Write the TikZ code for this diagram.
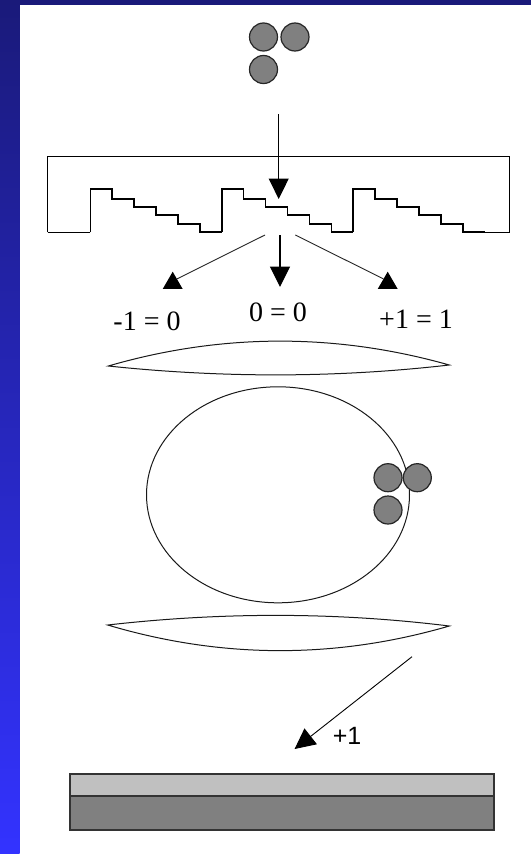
\documentclass[tikz,border=0pt]{standalone}
\usepackage{fontspec}
\setmainfont{Liberation Serif}
\newfontfamily\labelsans{Liberation Sans}
\usepackage{xcolor}
\usetikzlibrary{arrows.meta,positioning,shapes.geometric}
\definecolor{slidetop}{RGB}{26,26,122}
\definecolor{slidelow}{RGB}{51,51,255}
\definecolor{ballgrey}{RGB}{128,128,128}
\definecolor{layerlight}{RGB}{192,192,192}

\begin{document}
\begin{tikzpicture}[
    x=1pt, y=-1pt,
    ball/.style={circle, draw=black!85, fill=ballgrey, line width=1.2pt, minimum size=28pt, inner sep=0pt},
    head/.style={regular polygon, regular polygon sides=3, fill=black, minimum size=23pt, inner sep=0pt},
    lens/.style={draw=black!90, line width=1pt, fill=white},
    ray/.style={draw=black!85, line width=0.9pt},
    arrow/.style={-{Triangle[length=20.5pt,width=20pt]}, draw=black, line width=1.1pt},
    order/.style={font=\fontsize{28}{30}\selectfont, anchor=base},
    layer/.style={draw=black!80, line width=1.2pt, minimum width=424pt, inner sep=0pt, anchor=north west}
  ]
    \useasboundingbox (0,0) rectangle (531,854);
    \fill[white] (0,0) rectangle (531,854);
    % slide frame
    \shade[top color=slidetop, bottom color=slidelow] (0,0) rectangle (19.5,854);
    \fill[slidetop] (0,0) rectangle (531,5);

    % incoming beam
    \node[ball] (b1) at (263.5,37) {};
    \node[ball] (b2) at (295,37) {};
    \node[ball] (b3) at (263.5,69.5) {};

    % grating
    \draw[line width=1.2pt] (47.7,232.3) -- (47.7,156.7) -- (509.6,156.7) -- (509.6,232.3) -- (464,232.3);
    \draw[line width=1.2pt] (47.7,232.3) -- (90.4,232.3);
    \foreach \sx in {90.4,221.8,353.2} {
      \draw[line width=1.7pt, line join=miter]
        (\sx,232.3) -- (\sx,188.7) -- ++(21.8,0) -- ++(0,10) -- ++(22,0) -- ++(0,8.3)
        -- ++(22,0) -- ++(0,8.3) -- ++(22,0) -- ++(0,8.7) -- ++(22,0) -- ++(0,8.3) -- ++(21.6,0);
    }

    \coordinate (inbeam) at (278.7,114);
    \coordinate (facet) at (278.7,199);
    \draw[arrow] (inbeam) -- (facet);

    % diffraction orders
    \coordinate (minusstart) at (265,235);
    \coordinate (zerostart) at (280,235);
    \coordinate (zeroend) at (280,287);
    \coordinate (plusstart) at (295.3,235);
    \node[head] (minushead) at (172.7,283.2) {};
    \node[head] (plushead) at (387.7,283.2) {};
    \draw[ray] (minusstart) -- (minushead.north east);
    \draw[ray] (plusstart) -- (plushead.north west);
    \draw[arrow] (zerostart) -- (zeroend);

    \node[order] (minuslabel) at (147,330) {-1 = 0};
    \node[order] (zerolabel) at (278,321.7) {0 = 0};
    \node[order] (pluslabel) at (416,328) {+1 = 1};

    % first lens, circle, second lens
    \draw[lens] (108.3,366) .. controls (222,333) and (336,333) .. (449.3,365)
      .. controls (336,378) and (222,378) .. cycle;
    \node[draw=black!90, line width=1pt, ellipse, minimum width=263pt, minimum height=216pt, inner sep=0pt] (focus) at (278,494.8) {};
    \node[ball] (c1) at (388,477.7) {};
    \node[ball] (c2) at (417.3,477.7) {};
    \node[ball] (c3) at (388,510) {};
    \draw[lens] (107.7,625) .. controls (222,612) and (336,612) .. (449.3,626)
      .. controls (336,659) and (222,659) .. cycle;

    % selected order
    \coordinate (outstart) at (412,656.7);
    \coordinate (outend) at (294.6,749);
    \draw[-{Triangle[length=20.5pt,width=20pt]}, draw=black, line width=0.9pt] (outstart) -- (outend);
    \node[font=\labelsans\fontsize{25}{27}\selectfont, anchor=base] (outlabel) at (347,744) {+1};

    % substrate
    \node[layer, fill=layerlight, minimum height=22pt] (film) at (69.4,773.3) {};
    \node[layer, fill=ballgrey, minimum height=34pt] (wafer) at (69.4,795.3) {};
  \end{tikzpicture}
\end{document}
